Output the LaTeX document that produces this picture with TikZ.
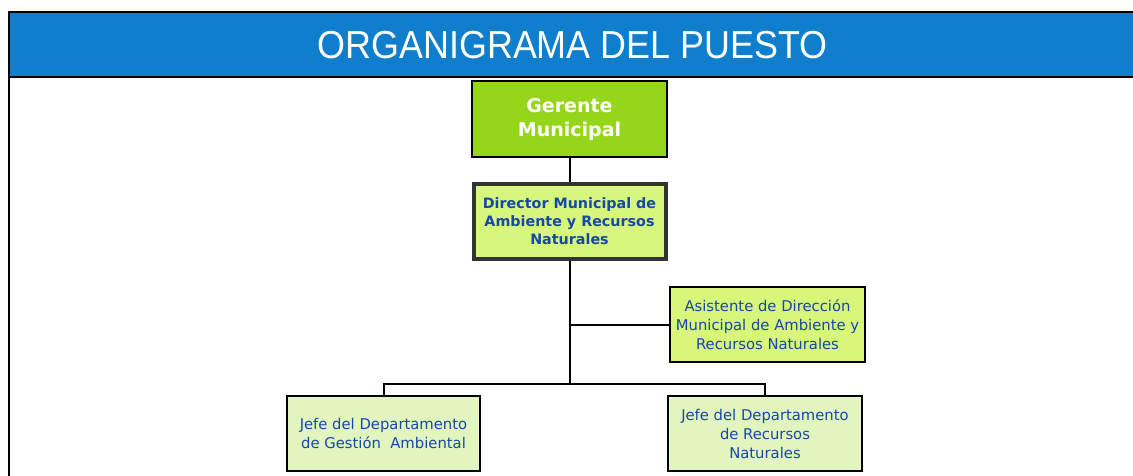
\documentclass[tikz,border=0pt]{standalone}
\usepackage{fontspec}
\setmainfont{DejaVu Sans}
\newfontfamily\titlefont{Liberation Sans}
\definecolor{hdrblue}{RGB}{15,127,205}
\definecolor{gergreen}{RGB}{150,214,26}
\definecolor{dirfill}{RGB}{214,247,124}
\definecolor{asisfill}{RGB}{215,246,122}
\definecolor{jefefill}{RGB}{226,245,190}
\definecolor{txtblue}{RGB}{22,72,168}
\definecolor{darkborder}{RGB}{51,51,51}
\begin{document}
\begin{tikzpicture}[x=1pt,y=-1pt,
  box/.style={draw=black, line width=1.5pt, align=center, inner sep=0pt, text=txtblue},
  normtxt/.style={font=\fontsize{14.8}{19}\selectfont},
  conn/.style={draw=black, line width=2pt}]
\useasboundingbox (0,0) rectangle (1133,476);
% header
\fill[white] (0,0) rectangle (1133,476);
\fill[hdrblue] (9,12) rectangle (1135,77);
\draw[line width=2pt] (9,12) -- (1135,12);
\draw[line width=2pt] (9,77) -- (1135,77);
\draw[line width=2pt] (9,11) -- (9,477);
\node[text=white, inner sep=0pt] (title) at (572.5,45)
  {\scalebox{0.92}[1]{\titlefont\fontsize{39}{44}\selectfont ORGANIGRAMA DEL PUESTO}};
% nodes
\node[box, fill=gergreen, text=white, minimum width=195, minimum height=76,
  font=\bfseries\fontsize{19}{24}\selectfont] (ger) at (569.5,119) {Gerente\\Municipal};
\node[box, fill=dirfill, draw=darkborder, line width=4pt, minimum width=192, minimum height=74,
  font=\bfseries\fontsize{14.3}{18}\selectfont] (dir) at (569.5,221.5)
  {Director Municipal de\\Ambiente y Recursos\\Naturales};
\node[box, fill=asisfill, minimum width=195, minimum height=75, normtxt] (asis) at (767.5,324.5)
  {Asistente de Dirección\\Municipal de Ambiente y\\Recursos Naturales};
\node[box, fill=jefefill, minimum width=193, minimum height=75, normtxt] (jefe1) at (383.5,433.5)
  {Jefe del Departamento\\de Gestión\ \ Ambiental};
\node[box, fill=jefefill, minimum width=194, minimum height=75, normtxt] (jefe2) at (765,433.5)
  {Jefe del Departamento\\de Recursos\\Naturales};
\coordinate (bus) at (569.5,384);
% connectors
\draw[conn] (ger.south) -- (dir.north);
\draw[conn] (dir.south) -- (bus);
\draw[conn] (dir.south |- asis.west) -- (asis.west);
\draw[conn] (jefe1.north) |- (bus) -| (jefe2.north);
\end{tikzpicture}
\end{document}
